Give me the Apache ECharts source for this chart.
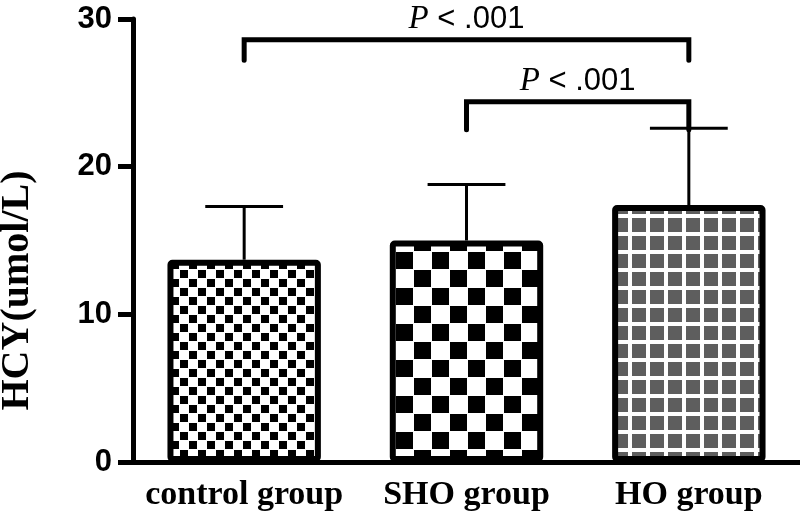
<!DOCTYPE html>
<html>
<head>
<meta charset="utf-8">
<script src="https://cdn.jsdelivr.net/npm/echarts@6/dist/echarts.min.js"></script>
<style>
  html, body { margin: 0; padding: 0; background: #fff; }
  #hcy-chart { width: 800px; height: 520px; }
</style>
</head>
<body>
<div id="hcy-chart"></div>
<script>
// HCY by group, bars = mean, whiskers = mean + SD
const groups = ['control group', 'SHO group', 'HO group'];
const means = [13.7, 15.0, 17.4];
const upperErr = [17.3, 18.8, 22.6];
const yTicks = [0, 10, 20, 30];

// significance brackets: [from group, to group, bar level, leg end level, text]
const brackets = [
    [0, 2, 28.6, 27.2, 'P < .001'],
    [1, 2, 24.4, 22.5, 'P < .001'],
];

// fill patterns drawn onto small canvases
function makePattern(size, draw) {
    const c = document.createElement('canvas');
    c.width = size;
    c.height = size;
    const ctx = c.getContext('2d');
    ctx.fillStyle = '#fff';
    ctx.fillRect(0, 0, size, size);
    draw(ctx);
    return { image: c, repeat: 'repeat' };
}
const smallChecks = makePattern(18, ctx => {
    ctx.fillStyle = '#000';
    ctx.fillRect(0, 0, 8, 8);
    ctx.fillRect(9, 9, 8, 8);
});
const bigChecks = makePattern(36, ctx => {
    ctx.fillStyle = '#000';
    ctx.fillRect(0, 0, 17, 17);
    ctx.fillRect(18, 18, 17, 17);
});
const greyGrid = makePattern(18, ctx => {
    ctx.fillStyle = '#5e5e5e';
    ctx.fillRect(2, 2, 14, 14);
});
const fills = [smallChecks, bigChecks, greyGrid];

const chart = echarts.init(document.getElementById('hcy-chart'));

const option = {
    animation: false,
    grid: { left: 133, right: 0, top: 19, bottom: 58, outerBoundsMode: 'none', containLabel: false },
    xAxis: {
        type: 'category',
        data: groups,
        axisLine: { lineStyle: { color: '#000', width: 5 } },
        axisTick: { alignWithLabel: true, length: 15, lineStyle: { color: '#000', width: 5 } },
        axisLabel: {
            interval: 0,
            hideOverlap: false,
            color: '#000',
            fontFamily: '"Liberation Serif", "Times New Roman", serif',
            fontWeight: 'bold',
            fontSize: 34,
            margin: 16,
        },
    },
    yAxis: {
        type: 'value',
        min: yTicks[0],
        max: yTicks[yTicks.length - 1],
        interval: 10,
        name: 'HCY(umol/L)',
        nameLocation: 'middle',
        nameGap: 95,
        nameTextStyle: {
            color: '#000',
            fontFamily: '"Liberation Serif", "Times New Roman", serif',
            fontWeight: 'bold',
            fontSize: 40,
            padding: [0, 100, 0, 0],
        },
        axisLine: { show: true, lineStyle: { color: '#000', width: 5 } },
        axisTick: { show: true, length: 15, lineStyle: { color: '#000', width: 5 } },
        axisLabel: {
            color: '#000',
            fontFamily: '"Liberation Sans", Arial, sans-serif',
            fontWeight: 'bold',
            fontSize: 31,
            margin: 21,
        },
        splitLine: { show: false },
    },
    series: [
        {
            type: 'bar',
            barWidth: '69%',
            data: means.map((v, i) => ({
                value: v,
                itemStyle: { color: fills[i] },
            })),
            itemStyle: { borderColor: '#000', borderWidth: 6, borderRadius: 2 },
            z: 2,
        },
        {
            // error whiskers with caps
            type: 'custom',
            data: means.map((v, i) => [i, v, upperErr[i]]),
            renderItem: (params, api) => {
                const base = api.coord([api.value(0), api.value(1)]);
                const top = api.coord([api.value(0), api.value(2)]);
                const capHalf = api.size([1, 0])[0] * 0.175;
                const lineStyle = { stroke: '#000', lineWidth: 3 };
                return {
                    type: 'group',
                    children: [
                        { type: 'line', shape: { x1: base[0], y1: base[1], x2: top[0], y2: top[1] }, style: lineStyle },
                        { type: 'line', shape: { x1: top[0] - capHalf, y1: top[1], x2: top[0] + capHalf, y2: top[1] }, style: lineStyle },
                    ],
                };
            },
            z: 3,
        },
        {
            // significance brackets
            type: 'custom',
            data: brackets,
            renderItem: (params, api) => {
                const b = brackets[params.dataIndex];
                const p1 = api.coord([b[0], b[2]]);
                const p2 = api.coord([b[1], b[2]]);
                const legY = api.coord([b[0], b[3]])[1];
                return {
                    type: 'group',
                    children: [
                        {
                            type: 'polyline',
                            shape: { points: [[p1[0], legY], [p1[0], p1[1]], [p2[0], p2[1]], [p2[0], legY]] },
                            style: { stroke: '#000', lineWidth: 5, fill: null, lineCap: 'round', lineJoin: 'miter' },
                        },
                        {
                            type: 'text',
                            x: (p1[0] + p2[0]) / 2,
                            y: p1[1] - 4,
                            style: {
                                text: '{i|P} < .001',
                                align: 'center',
                                verticalAlign: 'bottom',
                                fill: '#000',
                                fontFamily: '"Liberation Sans", Arial, sans-serif',
                                fontSize: 31,
                                rich: {
                                    i: {
                                        fontFamily: '"Liberation Serif", "Times New Roman", serif',
                                        fontStyle: 'italic',
                                        fontSize: 33,
                                        fill: '#000',
                                    },
                                },
                            },
                        },
                    ],
                };
            },
            z: 4,
        },
    ],
};

chart.setOption(option);
</script>
</body>
</html>
